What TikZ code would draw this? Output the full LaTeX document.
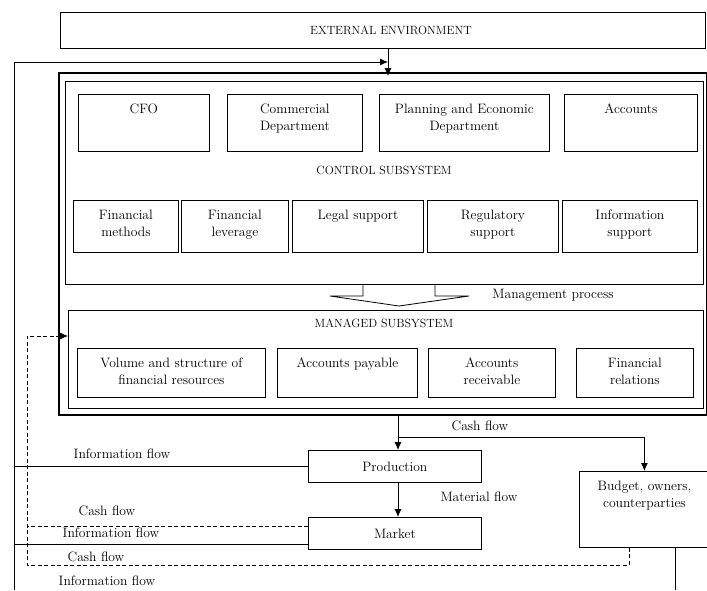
\documentclass[tikz,border=0pt]{standalone}
\usepackage{tikz}
\usetikzlibrary{calc,arrows.meta}

\begin{document}
\begin{tikzpicture}[x=1pt,y=-1pt,line width=0.8pt,
    every node/.style={font=\fontsize{13.6}{17.5}\selectfont},
    caps/.style={font=\fontsize{11.9}{14}\selectfont},
    frame/.style={rectangle, draw=black, anchor=north west, inner sep=0pt},
    blk/.style 2 args={frame, align=center, text width=#1, text height=19pt, text depth=#2},
    flow/.style={-{Latex[length=8pt,width=7pt]}},
    sigline/.style={dash pattern=on 4pt off 2.5pt}]
\useasboundingbox (0,0) rectangle (707,590);

\node[frame, caps, minimum width=645pt, minimum height=36pt] (env) at (60,12) {\hspace*{16pt}EXTERNAL ENVIRONMENT};
\node[frame, line width=1.6pt, minimum width=648pt, minimum height=342pt] (outer) at (58,72) {};
\node[frame, minimum width=638pt, minimum height=203pt] (ctrl) at (65,81) {};
\node[frame, minimum width=635pt, minimum height=98pt] (mgd) at (68,310) {};

\node[blk={131pt}{38pt}] (cfo) at (78,94) {CFO};
\node[blk={135pt}{38pt}] (comm) at (227,94) {Commercial\\Department};
\node[blk={170pt}{38pt}] (plan) at (379,94) {Planning and Economic\\Department};
\node[blk={133pt}{38pt}] (acc) at (564,94) {Accounts};
\node[caps] (ctrltxt) at (384,170) {CONTROL SUBSYSTEM};

\node[blk={105pt}{33pt}] (fmeth) at (73,200) {Financial\\methods};
\node[blk={107pt}{33pt}] (flev) at (181,200) {Financial\\leverage};
\node[blk={131pt}{33pt}] (legal) at (292,200) {Legal support};
\node[blk={131pt}{33pt}] (reg) at (427,200) {Regulatory\\support};
\node[blk={135pt}{33pt}] (info) at (562,200) {Information\\support};

\node[caps] (mgdtxt) at (384,323) {MANAGED SUBSYSTEM};
\node[blk={188pt}{30pt}] (vol) at (77,348) {Volume and structure of\\financial resources};
\node[blk={140pt}{30pt}] (pay) at (277,348) {Accounts payable};
\node[blk={127pt}{30pt}] (rec) at (428,348) {Accounts\\receivable};
\node[blk={117pt}{30pt}] (rel) at (576,348) {Financial\\relations};

\node[frame, minimum width=173pt, minimum height=32pt] (prod) at (308,450) {Production};
\node[frame, minimum width=173pt, minimum height=32pt] (mkt) at (308,517) {Market};
\node[blk={130pt}{57pt}] (budget) at (579,471) {Budget, owners,\\counterparties};

\coordinate (mproc) at (399,284);
\draw (mproc) ++(-36,0) -- ++(0,12) -- ++(-33,0) -- ($(mproc |- mgd.north)+(0,-4)$)
    -- ++(70,-10) -- ++(-34,0) -- ++(0,-12);
\node (mptxt) at (553,295) {Management process};

\coordinate (envin) at (388,62);
\coordinate (lb) at (14,590);
\coordinate (cf) at (398,437);
\coordinate (rb) at (675,590);
\coordinate (dl) at (27,565);
\coordinate (dr) at (629,565);

\draw[flow] (env.south -| envin) -- ($(outer.north -| envin)+(0,4)$);
\draw[flow] (lb) |- (envin);
\draw (prod.west) -- (prod.west -| lb);
\draw ($(mkt.south west)+(0,-5)$) coordinate (m2) -- (m2 -| lb);
\draw[sigline] ($(mkt.north west)+(0,9)$) coordinate (m1) -- (m1 -| dl);
\draw[sigline, flow] (budget.south -| dr) -- (dr) -- (dl) |- ($(mgd.north west)+(0,26)$);
\draw[flow] (outer.south -| cf) -- (prod.north -| cf);
\draw[flow] (cf) -| (budget.north);
\draw[flow] (prod.south -| cf) -- (mkt.north -| cf);
\draw (budget.south -| rb) -- (rb);

\node (cash1) at (480,426) {Cash flow};
\node (mat) at (479,497) {Material flow};
\node (info1) at (122,454) {Information flow};
\node (cash2) at (107,511) {Cash flow};
\node (info2) at (111,533) {Information flow};
\node (cash3) at (96,557) {Cash flow};
\node (info3) at (107,581) {Information flow};
\end{tikzpicture}
\end{document}
